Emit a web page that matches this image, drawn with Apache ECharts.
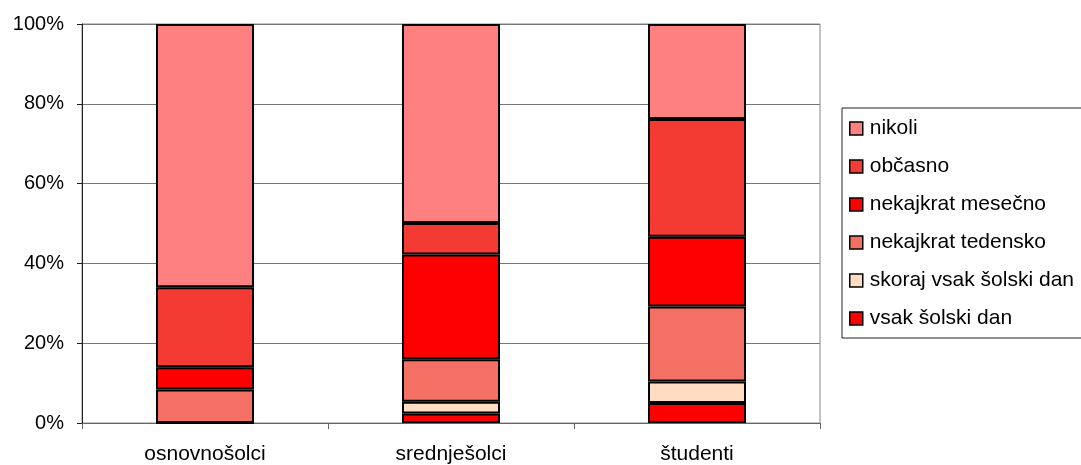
<!DOCTYPE html>
<html>
<head>
<meta charset="utf-8">
<script src="https://cdn.jsdelivr.net/npm/echarts@6/dist/echarts.min.js"></script>
<style>html,body{margin:0;padding:0;background:#fff;}#c{width:1081px;height:465px;}</style>
</head>
<body>
<div id="c"></div>
<script>
const categories = ['osnovnošolci', 'srednješolci', 'študenti'];
const vsakSolskiDan = [0, 2.4, 5.0];
const skorajVsakSolskiDan = [0, 2.9, 5.4];
const nekajkratTedensko = [8.4, 10.7, 18.8];
const nekajkratMesecno = [5.6, 26.2, 17.5];
const obcasno = [20.0, 7.9, 29.5];
const nikoli = [66.0, 49.9, 23.8];
const yTicks = [0, 20, 40, 60, 80, 100];

const font = "'Liberation Sans', Arial, sans-serif";
const seriesDefs = [
  ['vsak šolski dan', vsakSolskiDan, '#FF0000'],
  ['skoraj vsak šolski dan', skorajVsakSolskiDan, '#FFDCC2'],
  ['nekajkrat tedensko', nekajkratTedensko, '#F47064'],
  ['nekajkrat mesečno', nekajkratMesecno, '#FF0000'],
  ['občasno', obcasno, '#F33A33'],
  ['nikoli', nikoli, '#FF8080']
];

const chart = echarts.init(document.getElementById('c'), null, {renderer: 'canvas'});
chart.setOption({
  backgroundColor: '#fff',
  animation: false,
  textStyle: {fontFamily: font, color: '#000'},
  grid: {left: 82, right: 261, top: 24, bottom: 42, show: true, borderColor: '#888', borderWidth: 1},
  legend: {
    orient: 'vertical',
    left: 842, top: 108,
    data: seriesDefs.map(s => s[0]).reverse(),
    itemWidth: 13, itemHeight: 13, itemGap: 17,
    icon: 'rect',
    itemStyle: {borderColor: '#000', borderWidth: 1.5},
    textStyle: {fontFamily: font, fontSize: 21, color: '#000', padding: [0, 0, 0, 2]},
    borderColor: '#222', borderWidth: 1,
    padding: [10, 80, 9, 7]
  },
  xAxis: {
    type: 'category',
    data: categories,
    axisLine: {lineStyle: {color: '#666', width: 1}},
    axisTick: {show: true, length: 6, lineStyle: {color: '#666'}},
    axisLabel: {fontFamily: font, fontSize: 21, color: '#000', margin: 21}
  },
  yAxis: {
    type: 'value',
    min: yTicks[0], max: yTicks[yTicks.length - 1], interval: 20,
    axisLine: {show: true, lineStyle: {color: '#222', width: 1}},
    axisTick: {show: true, length: 5, lineStyle: {color: '#222'}},
    splitLine: {lineStyle: {color: '#777', width: 1}},
    axisLabel: {fontFamily: font, fontSize: 20, color: '#000', margin: 18, formatter: '{value}%'}
  },
  series: seriesDefs.map(s => ({
    name: s[0],
    type: 'bar',
    stack: 'total',
    data: s[1],
    barWidth: 98,
    itemStyle: {color: s[2], borderColor: '#000', borderWidth: 2}
  }))
});
</script>
</body>
</html>
